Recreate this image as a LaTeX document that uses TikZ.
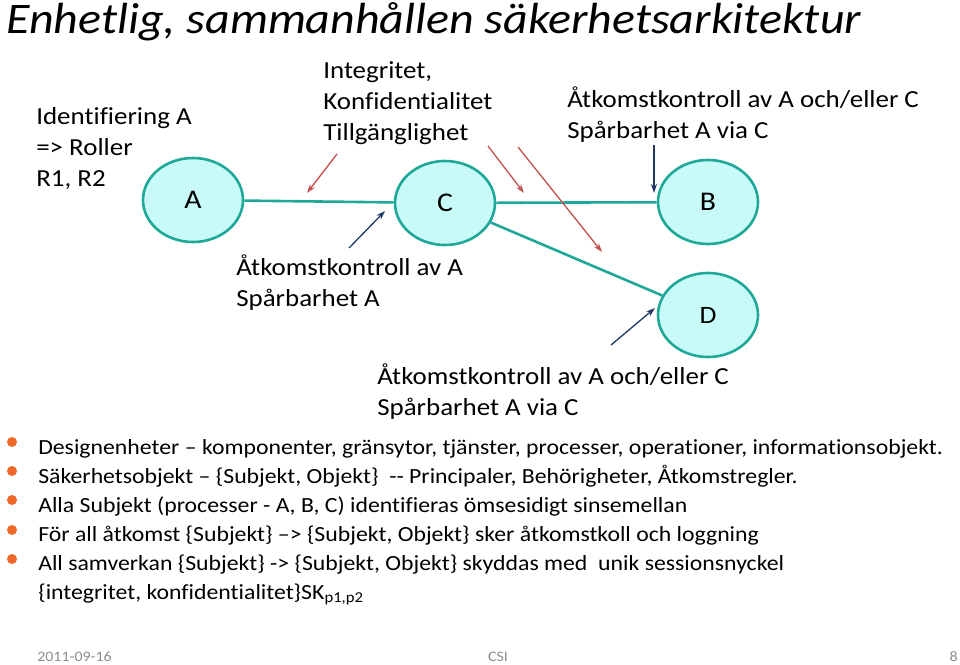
\documentclass[tikz,border=0pt]{standalone}
\usepackage{fontspec}
\setmainfont{Carlito}[Ligatures=NoCommon,FakeStretch=1.1]
\usepackage{xcolor}
\usetikzlibrary{shapes.geometric,arrows.meta}

\definecolor{ringcol}{RGB}{31,168,152}
\definecolor{ringfill}{RGB}{200,250,248}
\definecolor{redarr}{RGB}{192,80,77}
\definecolor{bluearr}{RGB}{31,56,100}
\definecolor{dotcol}{RGB}{238,104,44}
\definecolor{footcol}{RGB}{140,140,140}

\begin{document}
\begin{tikzpicture}[x=1pt,y=-1pt,>={Stealth[length=9pt,width=6pt]},semithick]
    \tikzset{unit/.style={ellipse,draw=ringcol,fill=ringfill,line width=2.6pt,
        minimum width=100pt,minimum height=84pt,inner sep=0pt}}
    \tikzset{link/.style={draw=ringcol,line width=2.6pt}}
    \tikzset{note/.style={anchor=base west,inner sep=0pt,align=left,
        font=\fontsize{24.5}{31}\selectfont}}
    \tikzset{item/.style={anchor=base west,inner sep=0pt,font=\fontsize{21.6}{29}\selectfont}}
    \tikzset{foot/.style={anchor=base,inner sep=0pt,text=footcol,font=\fontsize{14.5}{18}\selectfont}}
    \tikzset{redline/.style={->,draw=redarr,line width=1.3pt}}
    \tikzset{blueline/.style={->,draw=bluearr,line width=1.3pt}}

    \useasboundingbox (0,0) rectangle (960,664);

    % title
    \node[anchor=base west,inner sep=0pt,font=\fontsize{43.6}{52}\selectfont\itshape] (title) at (6,33)
        {Enhetlig, sammanhållen säkerhetsarkitektur};

    % processes
    \node[unit,font=\fontsize{27}{30}\selectfont] (A) at (193,200) {A};
    \node[unit,font=\fontsize{27}{30}\selectfont] (C) at (445,203) {C};
    \node[unit,font=\fontsize{27}{30}\selectfont] (B) at (708,202) {B};
    \node[unit,font=\fontsize{25}{28}\selectfont] (D) at (708,315) {D};

    \path[link] (A) -- (C);
    \path[link] (C) -- (B);
    \path[link] (C) -- (D);

    % labels (anchored at the last line)
    \node[note] (ident) at (36,186) {Identifiering A\\=> Roller\\R1, R2};
    \node[note] (ikt) at (323,140) {Integritet,\\Konfidentialitet\\Tillgänglighet};
    \node[note] (atkAC) at (567,138) {Åtkomstkontroll av A och/eller C\\Spårbarhet A via C};
    \node[note] (atkA) at (236,306) {Åtkomstkontroll av A\\Spårbarhet A};
    \node[note] (atkD) at (377,415) {Åtkomstkontroll av A och/eller C\\Spårbarhet A via C};

    % pointers
    \coordinate (r1s) at (337,154);  \coordinate (r1e) at (307,193);
    \coordinate (r2s) at (488,146);  \coordinate (r2e) at (524,193);
    \coordinate (r3s) at (518,147);  \coordinate (r3e) at (602,252);
    \coordinate (b1s) at (349,248);  \coordinate (b1e) at (385,211);
    \coordinate (b2s) at (654,145);  \coordinate (b2e) at (654,193);
    \coordinate (b3s) at (611,345);  \coordinate (b3e) at (655,308);

    \draw[redline] (r1s) -- (r1e);
    \draw[redline] (r2s) -- (r2e);
    \draw[redline] (r3s) -- (r3e);
    \draw[blueline] (b1s) -- (b1e);
    \draw[blueline] (b2s) -- (b2e);
    \draw[blueline] (b3s) -- (b3e);

    % bullet list
    \foreach \y in {442,471,500,530,559}
        \fill[dotcol] (12,\y) circle (5);
    \node[item] (l1) at (38,454) {Designenheter – komponenter, gränsytor, tjänster, processer, operationer, informationsobjekt.};
    \node[item] (l2) at (38,483) {Säkerhetsobjekt – \{Subjekt, Objekt\}\ \ -{}- Principaler, Behörigheter, Åtkomstregler.};
    \node[item] (l3) at (38,512) {Alla Subjekt (processer - A, B, C) identifieras ömsesidigt sinsemellan};
    \node[item] (l4) at (38,541) {För all åtkomst \{Subjekt\} –> \{Subjekt, Objekt\} sker åtkomstkoll och loggning};
    \node[item] (l5) at (38,570) {All samverkan \{Subjekt\} -> \{Subjekt, Objekt\} skyddas med\ \ unik sessionsnyckel};
    \node[item] (l6) at (38,599) {\{integritet, konfidentialitet\}SK\textsubscript{p1,p2}};

    % footer
    \node[foot,anchor=base west] (date) at (37,661) {2011-09-16};
    \node[foot] (org) at (498,661) {CSI};
    \node[foot,anchor=base east] (page) at (958,661) {8};
\end{tikzpicture}
\end{document}
